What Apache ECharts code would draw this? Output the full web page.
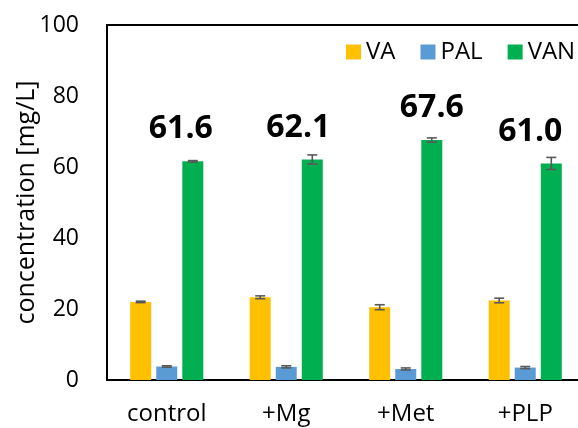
<!DOCTYPE html>
<html>
<head>
<meta charset="utf-8">
<script src="https://cdn.jsdelivr.net/npm/echarts@6/dist/echarts.min.js"></script>
<style>
html,body{margin:0;padding:0;background:#fff;}
#chart{width:578px;height:428px;}
</style>
</head>
<body>
<div id="chart"></div>
<script>
const categories = ['control', '+Mg', '+Met', '+PLP'];
const seriesNames = ['VA', 'PAL', 'VAN'];
const vaValues = [22.0, 23.3, 20.5, 22.4];
const palValues = [3.8, 3.7, 3.1, 3.5];
const vanValues = [61.6, 62.1, 67.6, 61.0];
const vaErr = [0.2, 0.4, 0.7, 0.65];
const palErr = [0.2, 0.3, 0.3, 0.3];
const vanErr = [0.2, 1.3, 0.6, 1.7];
const yTicks = [0, 20, 40, 60, 80, 100];

const FONT = 'Open Sans';
const colors = ['#FFC000', '#5B9BD5', '#00B050'];
const BAR_W = 21;
const GAP_PCT = 24;
const step = BAR_W * (1 + GAP_PCT / 100);
const offsets = [-step, 0, step];
const labelDx = [-12, -14, 0, -21];

const chart = echarts.init(document.getElementById('chart'));

function errSeries(name, vals, errs, idx) {
  return {
    type: 'custom',
    name: name + ' err',
    z: 10,
    silent: true,
    encode: { x: 0, y: 1 },
    data: vals.map((v, i) => [i, v, errs[i]]),
    renderItem: function (params, api) {
      const c = api.value(0), v = api.value(1), e = api.value(2);
      const top = api.coord([c, v + e]);
      const bot = api.coord([c, v - e]);
      const x = top[0] + offsets[idx];
      const hw = 5;
      const style = { stroke: '#595959', lineWidth: 1.6 };
      return {
        type: 'group',
        children: [
          { type: 'line', shape: { x1: x, y1: top[1], x2: x, y2: bot[1] }, style },
          { type: 'line', shape: { x1: x - hw, y1: top[1], x2: x + hw, y2: top[1] }, style },
          { type: 'line', shape: { x1: x - hw, y1: bot[1], x2: x + hw, y2: bot[1] }, style }
        ]
      };
    }
  };
}

const option = {
  animation: false,
  backgroundColor: '#fff',
  textStyle: { fontFamily: FONT },
  legend: {
    data: seriesNames,
    left: 346, top: 40, width: 320,
    padding: 0,
    icon: 'rect',
    itemWidth: 15, itemHeight: 15,
    itemGap: 25,
    textStyle: { fontFamily: FONT, fontSize: 24, color: '#000' }
  },
  grid: {
    left: 107, top: 25, width: 478, height: 355,
    outerBoundsMode: 'none',
    containLabel: false,
    show: false
  },
  xAxis: [{
    type: 'category',
    data: categories,
    axisTick: { show: false },
    axisLine: { lineStyle: { color: '#000', width: 2 } },
    axisLabel: { fontFamily: FONT, fontSize: 24, color: '#000', margin: 22 }
  }, {
    type: 'category',
    data: categories,
    position: 'top',
    axisTick: { show: false },
    axisLabel: { show: false },
    axisLine: { show: true, lineStyle: { color: '#000', width: 2 } }
  }],
  yAxis: {
    type: 'value',
    min: yTicks[0], max: yTicks[yTicks.length - 1], interval: 20,
    splitLine: { show: false },
    axisTick: { show: false },
    axisLine: { show: true, lineStyle: { color: '#000', width: 2 } },
    axisLabel: { fontFamily: FONT, fontSize: 23, color: '#000', margin: 28 },
    name: 'concentration [mg/L]',
    nameLocation: 'middle',
    nameGap: 68,
    nameMoveOverlap: false,
    nameTextStyle: { fontFamily: FONT, fontSize: 25, color: '#000' }
  },
  series: [
    { type: 'bar', name: 'VA', data: vaValues, barWidth: BAR_W, barGap: GAP_PCT + '%', itemStyle: { color: colors[0] } },
    { type: 'bar', name: 'PAL', data: palValues, barWidth: BAR_W, barGap: GAP_PCT + '%', itemStyle: { color: colors[1] } },
    {
      type: 'bar', name: 'VAN', barWidth: BAR_W, barGap: GAP_PCT + '%', itemStyle: { color: colors[2] },
      data: vanValues.map((v, i) => ({
        value: v,
        label: {
          show: true, position: 'top', offset: [labelDx[i], -11],
          formatter: (p) => p.value.toFixed(1),
          fontFamily: FONT, fontWeight: 'bold', fontSize: 32, color: '#000'
        }
      }))
    },
    errSeries('VA', vaValues, vaErr, 0),
    errSeries('PAL', palValues, palErr, 1),
    errSeries('VAN', vanValues, vanErr, 2)
  ]
};
chart.setOption(option);
</script>
</body>
</html>
